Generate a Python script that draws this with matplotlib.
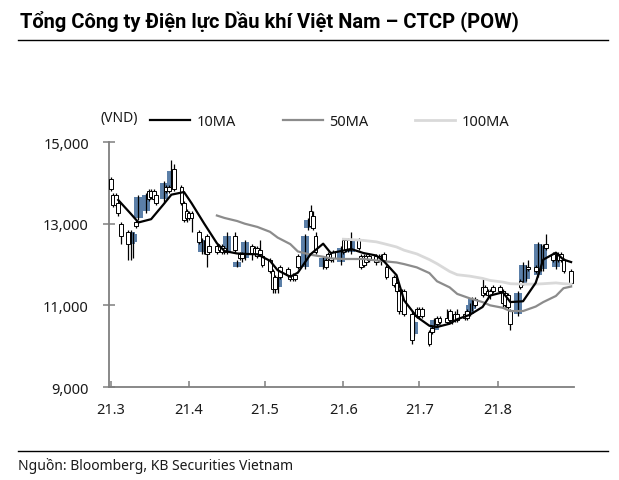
import matplotlib
matplotlib.use('Agg')
import matplotlib.pyplot as plt
import matplotlib.dates as mdates
from matplotlib.lines import Line2D
import pandas as pd
import numpy as np

plt.rcParams['font.family'] = ['Noto Sans', 'DejaVu Sans']

title = "Tổng Công ty Điện lực Dầu khí Việt Nam – CTCP (POW)"
source = "Nguồn: Bloomberg, KB Securities Vietnam"
unit = "(VND)"
start_date = "2021-03-01"

opens = [14100, 13700, 13700, 13500, 13000, 12800, 12500, 12550, 13050, 13150,
         13300, 13800, 13800, 13800, 13700, 13600, 13900, 13900, 13900, 14350,
         13900, 13500, 13300, 13250, 13250, 12800, 12300, 12300, 12700, 12450,
         12450, 12450, 12450, 12400, 12300, 12700, 11950, 12250, 12250, 12150,
         12450, 12400, 12400, 12350, 12200, 12100, 11850, 11700, 11450, 11950,
         11900, 11750, 11750, 11750, 12200, 11950, 12900, 13300, 13200, 12700,
         11950, 12100, 12250, 12250, 12300, 12050, 12600, 12600, 12600, 12300,
         12600, 12200, 12200, 12200, 12200, 12200, 12200, 12050, 12250, 11950,
         11700, 11550, 11350, 11350, 11350, 10800, 10300, 10900, 10900, 10900,
         10350, 10450, 10400, 10700, 10700, 10700, 10850, 10600, 10800, 10800,
         10800, 10850, 10800, 10900, 11150, 11450, 11450, 11350, 11350, 11450,
         11450, 11350, 11300, 11250, 10850, 10800, 11600, 11550, 11650, 11950,
         11950, 11750, 11900, 11900, 12500, 12250, 11950, 12250, 12250, 12100,
         11850]
highs = [14150, 13750, 13750, 13550, 13050, 12850, 12850, 12800, 13100, 13700,
         13750, 13850, 13850, 13850, 13750, 14050, 13950, 13950, 14550, 14450,
         13950, 13550, 13350, 13300, 13300, 12850, 12650, 12600, 12750, 12500,
         12500, 12500, 12500, 12450, 12800, 12800, 12100, 12300, 12300, 12600,
         12500, 12450, 12450, 12600, 12250, 12150, 11900, 11750, 11750, 12000,
         11950, 11800, 11800, 11800, 12250, 12750, 13150, 13450, 13300, 12800,
         12200, 12150, 12300, 12300, 12350, 12450, 12650, 12650, 12650, 12800,
         12650, 12250, 12250, 12250, 12250, 12250, 12250, 12250, 12300, 12000,
         11750, 11600, 11400, 11400, 11400, 10850, 10650, 10950, 10950, 10950,
         10400, 10500, 10700, 10750, 10750, 10900, 10900, 10800, 10850, 10900,
         10850, 10900, 11050, 11200, 11200, 11650, 11500, 11400, 11400, 11500,
         11500, 11400, 11350, 11300, 10900, 11350, 11650, 12050, 12000, 12100,
         12000, 12550, 12500, 12500, 12750, 12300, 12300, 12300, 12300, 12150,
         11900]
lows = [13800, 13400, 13400, 13200, 12500, 12100, 12100, 12150, 12900, 13100,
        13250, 13550, 13600, 13550, 13450, 13500, 13750, 13750, 13850, 13800,
        13450, 13050, 13050, 13100, 12800, 12500, 12250, 12250, 11950, 12250,
        12250, 12300, 12250, 12250, 12250, 12300, 11950, 12100, 12050, 12100,
        12100, 12200, 12150, 12200, 11950, 11800, 11300, 11300, 11300, 11650,
        11700, 11600, 11600, 11600, 11900, 11900, 12850, 12900, 12850, 12250,
        11900, 11900, 12100, 12050, 12050, 12000, 12250, 12300, 12300, 12250,
        12350, 11900, 11950, 12000, 12050, 12000, 12050, 12000, 12050, 11650,
        11450, 11300, 10800, 10800, 10750, 10050, 10250, 10700, 10700, 10700,
        10000, 10300, 10350, 10500, 10550, 10550, 10600, 10550, 10600, 10600,
        10650, 10650, 10750, 10850, 10950, 11200, 11250, 11200, 11150, 11300,
        11300, 10950, 10950, 10900, 10400, 10750, 11400, 11500, 11600, 11850,
        11800, 11700, 11850, 11850, 12350, 12050, 11900, 12050, 12050, 11800,
        11500]
closes = [13850, 13450, 13450, 13250, 12700, 12500, 12800, 12750, 12950, 13650,
          13700, 13600, 13650, 13600, 13500, 14000, 13800, 13800, 14300, 13850,
          13500, 13100, 13150, 13150, 13150, 12550, 12600, 12550, 12250, 12300,
          12300, 12350, 12300, 12300, 12700, 12350, 12050, 12150, 12150, 12550,
          12250, 12250, 12200, 12250, 12000, 11850, 11400, 11400, 11700, 11700,
          11750, 11650, 11650, 11650, 11950, 12700, 13100, 12950, 12900, 12300,
          12150, 11950, 12150, 12100, 12150, 12400, 12300, 12350, 12350, 12600,
          12400, 11950, 12000, 12050, 12100, 12050, 12100, 12200, 12100, 11700,
          11500, 11350, 10850, 10850, 10800, 10150, 10600, 10750, 10750, 10750,
          10050, 10350, 10650, 10550, 10600, 10600, 10650, 10750, 10650, 10650,
          10700, 10700, 11000, 11150, 11000, 11250, 11300, 11250, 11250, 11350,
          11350, 11050, 11000, 10950, 10550, 11300, 11450, 12000, 11950, 11900,
          11850, 12500, 12400, 12450, 12400, 12100, 12100, 12100, 12100, 11850,
          11550]

# moving averages read every 3rd trading day (plus the last day)
ma10 = [13580, 13240, 13030, 13110, 13480, 13710, 13775, 13500, 13000, 12520,
        12330, 12270, 12260, 12250, 12090, 11860, 11700, 11800, 12250, 12510,
        12280, 12340, 12380, 12280, 12220, 12080, 11740, 11120, 10720, 10500,
        10470, 10550, 10660, 10770, 10960, 11240, 11320, 11080, 11100, 11550,
        12120, 12290, 12120, 12060]
ma50 = [13200, 13140, 13065, 13000, 12920, 12800, 12660, 12500, 12320, 12240,
        12190, 12150, 12135, 12135, 12135, 12100, 12080, 12050, 12010, 11930,
        11790, 11590, 11440, 11280, 11170, 11080, 11000, 10940, 10860, 10860,
        10970, 11080, 11230, 11420, 11460]
ma100 = [12620, 12610, 12590, 12555, 12510, 12430, 12350, 12260, 12120, 12020,
         11830, 11750, 11715, 11660, 11610, 11570, 11530, 11520, 11520, 11530,
         11550, 11530, 11520]
ma10_first, ma50_first, ma100_first = 3, 30, 66

n = min(len(opens), len(highs), len(lows), len(closes))
dates = pd.bdate_range(start_date, periods=n)
x = mdates.date2num(dates.to_pydatetime())
o = np.array(opens[:n], float)
h = np.array(highs[:n], float)
l = np.array(lows[:n], float)
c = np.array(closes[:n], float)


def ma_x(first, count):
    idx = list(range(first, n, 3))[:count - 1] + [n - 1]
    return x[idx]


fig = plt.figure(figsize=(6.19, 4.81), dpi=100)
ax = fig.add_axes([0.1767, 0.1933, 0.750, 0.5094])

up = c >= o
ax.bar(x[up], np.maximum(c - o, 40)[up], bottom=o[up], width=3.2,
       color='#5b7fa8', linewidth=0, zorder=1)
ax.vlines(x, l, h, color='black', linewidth=0.9, zorder=2)
ax.bar(x[~up], np.maximum(o - c, 40)[~up], bottom=c[~up], width=1.5,
       facecolor='white', edgecolor='black', linewidth=0.7, zorder=3)

ax.plot(ma_x(ma100_first, len(ma100)), ma100, color='#d9d9d9', lw=2.0, zorder=4,
        solid_joinstyle='round')
ax.plot(ma_x(ma50_first, len(ma50)), ma50, color='#8c8c8c', lw=1.6, zorder=4,
        solid_joinstyle='round')
ax.plot(ma_x(ma10_first, len(ma10)), ma10, color='black', lw=1.6, zorder=5,
        solid_joinstyle='round')

ax.set_ylim(9000, 15000)
ax.set_yticks([9000, 11000, 13000, 15000])
ax.yaxis.set_major_formatter(matplotlib.ticker.FuncFormatter(lambda v, p: f"{int(v):,}"))
x0 = mdates.date2num(pd.Timestamp(start_date)) - 0.5
ax.set_xlim(x0, x0 + 183.5)
ax.xaxis.set_major_locator(mdates.MonthLocator())
ax.xaxis.set_major_formatter(matplotlib.ticker.FuncFormatter(
    lambda v, p: f"{mdates.num2date(v).year % 100}.{mdates.num2date(v).month}"))

for s in ['top', 'right']:
    ax.spines[s].set_visible(False)
for s in ['left', 'bottom']:
    ax.spines[s].set_color('#7f7f7f')
    ax.spines[s].set_linewidth(1.3)
ax.tick_params(axis='y', direction='inout', length=8.6, width=1.1, color='#7f7f7f',
               pad=10.5, labelsize=10.5, labelcolor='#1a1a1a')
ax.tick_params(axis='x', direction='in', length=4.3, width=1.1, color='#7f7f7f',
               pad=11, labelsize=10.5, labelcolor='#1a1a1a')

handles = [Line2D([], [], color='black', lw=1.6),
           Line2D([], [], color='#8c8c8c', lw=1.6),
           Line2D([], [], color='#d9d9d9', lw=2.0)]
fig.legend(handles, ['10MA', '50MA', '100MA'], loc='center left',
           bbox_to_anchor=(0.2423, 0.746), ncol=3, frameon=False, fontsize=10.5,
           handlelength=2.75, handletextpad=0.45, columnspacing=3.2,
           borderpad=0, borderaxespad=0, labelcolor='#1a1a1a')
fig.text(0.192, 0.754, unit, ha='center', va='center', fontsize=10, color='#1a1a1a')

fig.text(0.032, 0.956, title, ha='left', va='center', fontsize=14.5,
         fontweight='bold', color='black', family=['Roboto', 'DejaVu Sans'])
fig.add_artist(Line2D([0.029, 0.982], [0.915, 0.915], color='black', lw=1.0))
fig.add_artist(Line2D([0.029, 0.982], [0.060, 0.060], color='black', lw=1.0))
fig.text(0.029, 0.031, source, ha='left', va='center', fontsize=10, color='#1a1a1a')

fig.savefig('out.png', dpi=100)
